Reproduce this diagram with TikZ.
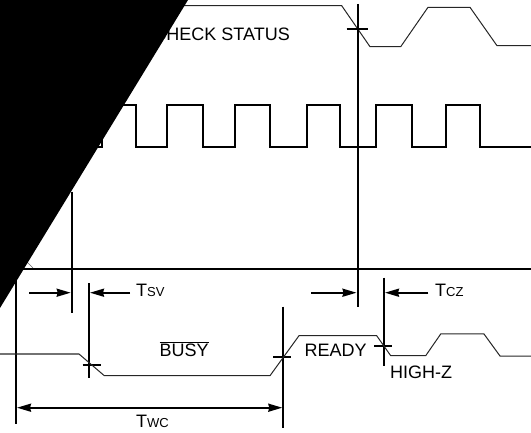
\documentclass[tikz,border=0pt]{standalone}
\usepackage{fontspec}
\setmainfont{Liberation Sans}
\usetikzlibrary{arrows.meta}
\tikzset{
  thickln/.style={line width=2pt, line cap=butt},
  thinln/.style={line width=1pt, black!85, line join=miter},
  clockln/.style={line width=2pt, line join=miter},
  dimarrow/.style={line width=2pt, -{Stealth[length=14pt,width=8pt,inset=1pt]}},
  dimboth/.style={line width=2pt, {Stealth[length=14pt,width=8pt,inset=1pt]}-{Stealth[length=14pt,width=8pt,inset=1pt]}},
  lbl/.style={inner sep=0pt, font=\fontsize{18}{20}\selectfont},
}
\newcommand{\smallsub}[1]{{\fontsize{13}{15}\selectfont #1}}
\begin{document}
\begin{tikzpicture}[x=1pt,y=-1pt]
\useasboundingbox (0,0) rectangle (531,433);

% top signal
\draw[thinln] (140,5.7) -- (341.7,5.7) -- (370,46.7) -- (400.7,46.7) -- (428,7.3) -- (470,7.3) -- (497,45.7) -- (531,45.7);
\node[lbl, anchor=base east] (chk) at (290,41) {CHECK STATUS};

% clock
\draw[clockln] (60,147.3) -- (102,147.3) -- (102,105) -- (135.7,105) -- (135.7,147.3)
  -- (166.7,147.3) -- (166.7,105) -- (202.7,105) -- (202.7,147.3)
  -- (235,147.3) -- (235,105) -- (270,105) -- (270,147.3)
  -- (306.7,147.3) -- (306.7,105) -- (340,105) -- (340,147.3)
  -- (375.7,147.3) -- (375.7,105) -- (411.7,105) -- (411.7,147.3)
  -- (445.7,147.3) -- (445.7,105) -- (480,105) -- (480,147.3) -- (531,147.3);

% horizontal reference line
\draw[thickln] (0,269.5) -- (531,269.5);

% vertical lines
\coordinate (v1t) at (16,260);   \coordinate (v1b) at (16,424.3);
\coordinate (v2t) at (71.7,191.7); \coordinate (v2b) at (71.7,313.3);
\coordinate (v3t) at (89,283.3); \coordinate (v3b) at (89,378.3);
\coordinate (v4t) at (357.5,4);  \coordinate (v4b) at (357.5,306.7);
\coordinate (v5t) at (384,277.7); \coordinate (v5b) at (384,365.7);
\coordinate (v6t) at (283.3,306.7); \coordinate (v6b) at (283.3,428.3);
\draw[thickln] (v1t) -- (v1b);
\draw[thickln] (v2t) -- (v2b);
\draw[thickln] (v3t) -- (v3b);
\draw[thickln] (v4t) -- (v4b);
\draw[thickln] (v5t) -- (v5b);
\draw[thickln] (v6t) -- (v6b);

% crosshair ticks
\draw[thickln] (346.7,28.8) -- (367.7,28.8);
\draw[thickln] (82.7,365) -- (100.7,365);
\draw[thickln] (273.3,357.3) -- (290.7,357.3);
\draw[thickln] (374,345.7) -- (391.7,345.7);

% BUSY / READY signal
\draw[thinln] (0,354) -- (79,354) -- (104.3,375.7) -- (270,375.7) -- (299,335.7) -- (376.7,335.7)
  -- (390.7,355.7) -- (425.7,355.7) -- (440.7,334) -- (484,334) -- (500,356) -- (531,356);

% Tsv arrows
\coordinate (a1) at (29.3,292.7);
\coordinate (a2) at (130,292.7);
\coordinate (a3) at (311,292.7);
\coordinate (a4) at (428.3,292.7);
\draw[dimarrow] (a1) -- (70.7,292.7);
\draw[dimarrow] (a2) -- (90,292.7);
\draw[dimarrow] (a3) -- (356.5,292.7);
\draw[dimarrow] (a4) -- (385,292.7);
\draw[dimboth] (17,407.7) -- (282.3,407.7);

% labels
\node[lbl, anchor=base west] (tsv) at (136,297) {T\smallsub{SV}};
\node[lbl, anchor=base west] (tcz) at (435,297) {T\smallsub{CZ}};
\node[lbl, anchor=base west] (twc) at (136,428) {T\smallsub{WC}};
\node[lbl, anchor=base west] (busy) at (159.5,356.5) {$\overline{\hbox{\fontsize{18}{20}\selectfont BUSY}}$};
\node[lbl, anchor=base west] (ready) at (304.5,356.7) {READY};
\node[lbl, anchor=base west] (hiz) at (390,378.3) {HIGH-Z};

% small artifact
\draw[line width=0.6pt, black!60] (27,262) -- (33,268);

% black occluding shape
\fill[black] (0,0) -- (188,0) -- (0,308) -- cycle;
\end{tikzpicture}
\end{document}
